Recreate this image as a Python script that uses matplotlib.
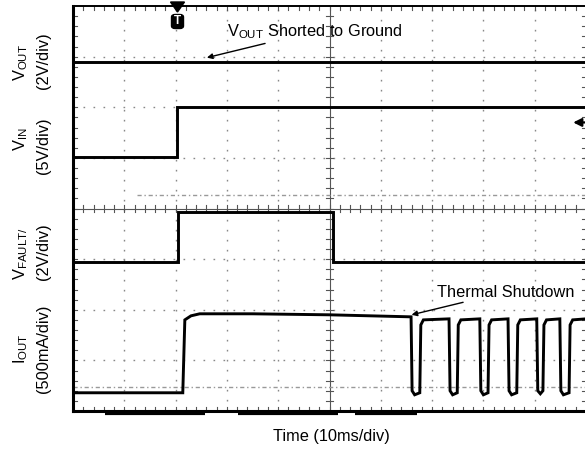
import matplotlib
matplotlib.use("Agg")
import matplotlib.pyplot as plt
from matplotlib.patches import Polygon, FancyBboxPatch
import numpy as np

plt.rcParams['font.family'] = ['Liberation Sans', 'DejaVu Sans']
plt.rcParams['mathtext.fontset'] = 'custom'
plt.rcParams['mathtext.rm'] = 'Liberation Sans'

# ---- data (x in divisions of 10 ms, y in screen divisions from bottom) ----
vout_t = [0.0, 10.0]
vout_v = [6.90, 6.90]

vin_t = [0.0, 2.03, 2.03, 10.0]
vin_v = [5.02, 5.02, 6.01, 6.01]

vfault_t = [0.0, 2.04, 2.04, 5.07, 5.07, 10.0]
vfault_v = [2.94, 2.94, 3.93, 3.93, 2.94, 2.94]

iout_t = [0.0, 2.14, 2.18, 2.30, 2.47, 3.50, 5.00, 6.59,
          6.61, 6.66, 6.76, 6.78, 6.83, 7.33,
          7.35, 7.40, 7.49, 7.51, 7.56, 7.93,
          7.95, 8.00, 8.09, 8.11, 8.16, 8.48,
          8.50, 8.55, 8.65, 8.67, 8.72, 9.04,
          9.06, 9.11, 9.16, 9.18, 9.23, 9.49,
          9.51, 9.56, 9.67, 9.69, 9.74, 10.0]
iout_v = [0.36, 0.36, 1.80, 1.88, 1.92, 1.92, 1.90, 1.86,
          0.40, 0.32, 0.36, 1.70, 1.80, 1.82,
          0.40, 0.32, 0.36, 1.70, 1.80, 1.82,
          0.40, 0.32, 0.36, 1.70, 1.80, 1.82,
          0.40, 0.32, 0.36, 1.70, 1.80, 1.82,
          0.40, 0.34, 0.40, 1.70, 1.80, 1.82,
          0.40, 0.32, 0.36, 1.70, 1.80, 1.82]

gnd_mid_y = 4.27     # faint ground reference marker (VIN)
gnd_mid_x0 = 1.25
gnd_low_y = 0.48     # faint ground reference marker (IOUT)

W, H = 585, 451
fig = plt.figure(figsize=(W / 100, H / 100), dpi=100)
L, R, T, B = 73, 586, 6, 411
ax = fig.add_axes([L / W, 1 - B / H, (R - L) / W, (B - T) / H])
ax.set_xlim(0, 10)
ax.set_ylim(0, 8)
ax.set_xticks([])
ax.set_yticks([])
for s in ax.spines.values():
    s.set_color('black')
ax.spines['left'].set_linewidth(2.2)
ax.spines['bottom'].set_linewidth(2.2)
ax.spines['top'].set_linewidth(1.4)
ax.spines['right'].set_linewidth(1.0)

# dotted grid
for gx in range(1, 10):
    if gx != 5:
        ax.plot([gx, gx], [0, 8], color='#888888', lw=1.0,
                linestyle=(0, (1.2, 6)), zorder=1)
for gy in range(1, 8):
    if gy != 4:
        ax.plot([0, 10], [gy, gy], color='#888888', lw=1.0,
                linestyle=(0, (1.2, 6)), zorder=1)

# center cross with minor ticks
ax.plot([5, 5], [0, 8], color='#555555', lw=0.8, zorder=1)
ax.plot([0, 10], [4, 4], color='#555555', lw=0.8, zorder=1)
mt_x = np.arange(0.2, 10, 0.2)
mt_y = np.arange(0.2, 8, 0.2)
tx = 0.07
ty = 0.07
for m in mt_y:
    ax.plot([5 - tx, 5 + tx], [m, m], color='#555555', lw=0.8, zorder=1)
    ax.plot([0, tx], [m, m], color='#555555', lw=0.8, zorder=1)
    ax.plot([10 - tx, 10], [m, m], color='#555555', lw=0.8, zorder=1)
for m in mt_x:
    ax.plot([m, m], [4 - ty, 4 + ty], color='#555555', lw=0.8, zorder=1)
    ax.plot([m, m], [8 - ty, 8], color='#555555', lw=0.8, zorder=1)
    ax.plot([m, m], [0, ty], color='#555555', lw=0.8, zorder=1)

# faint ground markers
ax.plot([gnd_mid_x0, 10], [gnd_mid_y, gnd_mid_y], color='#999999', lw=1.0,
        linestyle=(0, (3, 2, 1, 2)), zorder=2)
ax.plot([0, 10], [gnd_low_y, gnd_low_y], color='#999999', lw=1.0,
        linestyle=(0, (3, 2, 1, 2)), zorder=2)

# traces
kw = dict(color='black', lw=2.1, solid_joinstyle='miter', zorder=3)
ax.plot(vout_t, vout_v, **kw)
ax.plot(vin_t, vin_v, **kw)
ax.plot(vfault_t, vfault_v, **kw)
ax.plot(iout_t, iout_v, **kw)

# thick bottom segments (scope bars)
for a, b in [(0.62, 2.57), (3.22, 5.17), (5.50, 6.71)]:
    ax.plot([a, b], [-0.04, -0.04], color='black', lw=3, clip_on=False,
            solid_capstyle='butt', zorder=4)

# annotations
fs = 11.8
ax.annotate(r'V$_{\mathregular{OUT}}$ Shorted to Ground', xy=(2.61, 6.98),
            xytext=(3.0, 7.50), fontsize=fs, va='center', ha='left',
            arrowprops=dict(arrowstyle='-|>', color='black', lw=1.0,
                            shrinkA=0, shrinkB=0, mutation_scale=8))
ax.annotate('Thermal Shutdown', xy=(6.60, 1.90), xytext=(7.09, 2.35),
            fontsize=fs, va='center', ha='left',
            arrowprops=dict(arrowstyle='-|>', color='black', lw=1.0,
                            shrinkA=0, shrinkB=0, mutation_scale=8))

# right-edge ground arrow marker
ax.annotate('', xy=(9.75, 5.70), xytext=(10.02, 5.70),
            arrowprops=dict(arrowstyle='-|>', color='black', lw=1.6,
                            shrinkA=0, shrinkB=0, mutation_scale=12),
            annotation_clip=False)


def px(x, y):
    return (x / W, 1 - y / H)


# trigger marker
tri = Polygon([px(170.5, 2), px(184.5, 2), px(177.5, 12)], closed=True,
              transform=fig.transFigure, color='black', zorder=5)
fig.patches.append(tri)
box = FancyBboxPatch(px(171.5, 28.5), 12 / W, 14 / H,
                     boxstyle='round,pad=0.0,rounding_size=0.006',
                     transform=fig.transFigure, color='black', zorder=5)
fig.patches.append(box)
fig.text(*px(177.5, 21.5), 'T', color='white', fontsize=8.5,
         fontweight='bold', ha='center', va='center', zorder=7)

# left labels
def vlab(x, y, s):
    fig.text(*px(x, y), s, rotation=90, ha='center', va='center', fontsize=fs)


vlab(21, 62, r'V$_{\mathregular{OUT}}$')
vlab(44, 61, '(2V/div)')
vlab(21, 139, r'V$_{\mathregular{IN}}$')
vlab(44, 146, '(5V/div)')
vlab(21, 254, r'V$_{\mathregular{FAULT/}}$')
vlab(44, 252, '(2V/div)')
vlab(21, 349, r'I$_{\mathregular{OUT}}$')
vlab(44, 349, '(500mA/div)')

fig.text(*px(331, 436), 'Time (10ms/div)', ha='center', va='center',
         fontsize=fs)

fig.savefig('out.png', dpi=100)
